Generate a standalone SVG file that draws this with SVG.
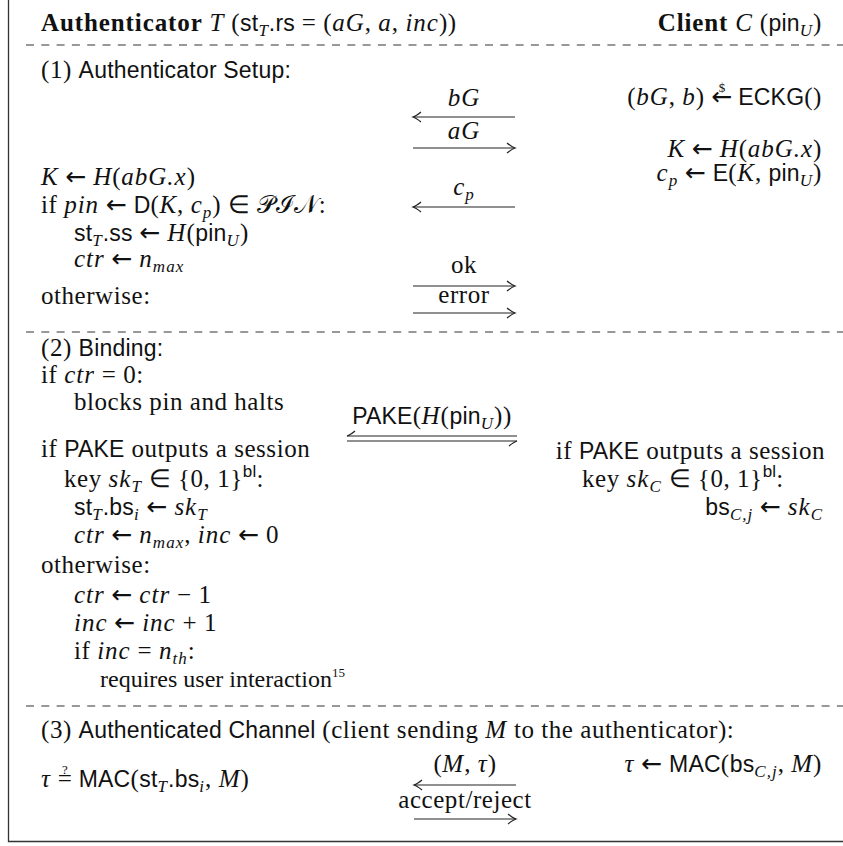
<svg xmlns="http://www.w3.org/2000/svg" width="843" height="846" viewBox="0 0 843 846">
<style>
text{font-family:"Liberation Serif","Times New Roman",serif;font-size:25px;letter-spacing:0.55px;fill:#111}
.i{font-style:italic;letter-spacing:1px}
.s{font-family:"Liberation Sans",Arial,sans-serif;font-size:23px;font-style:normal;letter-spacing:0.2px}
.ar{font-family:"DejaVu Sans",sans-serif;font-size:25px;font-style:normal;letter-spacing:0}
.cal{font-style:normal;letter-spacing:0.5px}
.b{font-weight:bold;letter-spacing:0.9px}
.sb{font-size:17px}
.sm{font-size:13px;letter-spacing:0}
.rq{font-size:24px;letter-spacing:0}
.c{text-anchor:middle}
.e{text-anchor:end}
.frame{fill:none;stroke:#333;stroke-width:1.3}
.dash{stroke:#333;stroke-width:1.1;stroke-dasharray:8 7.3}
.arr{fill:none;stroke:#222;stroke-width:1.2}
</style>
<defs>
<marker id="ah" viewBox="-10 -7 12 14" refX="0" refY="0" markerWidth="12" markerHeight="14" orient="auto" markerUnits="userSpaceOnUse">
<path d="M-8,-5 Q-3,-0.9 0,0 Q-3,0.9 -8,5" fill="none" stroke="#222" stroke-width="1.2"/>
</marker>
<marker id="hp" viewBox="-10 -7 12 14" refX="0" refY="0" markerWidth="12" markerHeight="14" orient="auto" markerUnits="userSpaceOnUse">
<path d="M0,0 Q-3,0.9 -8,5" fill="none" stroke="#222" stroke-width="1.2"/>
</marker>
</defs>

<g id="frame">
<path class="frame" d="M8.5,0 V841.5 H843"/>
<line class="dash" x1="26" y1="45" x2="843" y2="45"/>
<line class="dash" x1="26" y1="332" x2="843" y2="332"/>
<line class="dash" x1="26" y1="706" x2="843" y2="706"/>
</g>

<g id="header">
<text x="41" y="31"><tspan class="b">Authenticator</tspan> <tspan class="i">T</tspan> (<tspan class="s">st</tspan><tspan class="i sb" dy="5">T</tspan><tspan class="s" dy="-5">.rs</tspan> = (<tspan class="i">aG</tspan>, <tspan class="i">a</tspan>, <tspan class="i">inc</tspan>))</text>
<text class="e" x="822" y="31"><tspan class="b">Client</tspan> <tspan class="i">C</tspan> (<tspan class="s">pin</tspan><tspan class="i sb" dy="5">U</tspan><tspan dy="-5">)</tspan></text>
</g>

<g id="setup-authenticator">
<text x="41" y="78">(1) <tspan class="s">Authenticator Setup:</tspan></text>
<text x="41" y="185"><tspan class="i">K</tspan> <tspan class="ar">←</tspan> <tspan class="i">H</tspan>(<tspan class="i">abG.x</tspan>)</text>
<text x="41" y="213">if <tspan class="i">pin</tspan> <tspan class="ar">←</tspan> <tspan class="s">D</tspan>(<tspan class="i">K</tspan>, <tspan class="i">c</tspan><tspan class="i sb" dy="5">p</tspan><tspan dy="-5">) ∈ </tspan><tspan class="cal">𝒫ℐ𝒩</tspan>:</text>
<text x="74" y="241"><tspan class="s">st</tspan><tspan class="i sb" dy="5">T</tspan><tspan class="s" dy="-5">.ss</tspan> <tspan class="ar">←</tspan> <tspan class="i">H</tspan>(<tspan class="s">pin</tspan><tspan class="i sb" dy="5">U</tspan><tspan dy="-5">)</tspan></text>
<text x="74" y="267"><tspan class="i">ctr</tspan> <tspan class="ar">←</tspan> <tspan class="i">n</tspan><tspan class="i sb" dy="5">max</tspan></text>
<text x="41" y="304">otherwise:</text>
</g>

<g id="setup-client">
<text class="e" x="822" y="105">(<tspan class="i">bG</tspan>, <tspan class="i">b</tspan>) <tspan class="ar">←</tspan><tspan class="sm" dx="-13.7" dy="-13">$</tspan><tspan class="s" dx="13" dy="13">ECKG</tspan>()</text>
<text class="e" x="822" y="157"><tspan class="i">K</tspan> <tspan class="ar">←</tspan> <tspan class="i">H</tspan>(<tspan class="i">abG.x</tspan>)</text>
<text class="e" x="822" y="181"><tspan class="i">c</tspan><tspan class="i sb" dy="5">p</tspan> <tspan class="ar" dy="-5">←</tspan> <tspan class="s">E</tspan>(<tspan class="i">K</tspan>, <tspan class="s">pin</tspan><tspan class="i sb" dy="5">U</tspan><tspan dy="-5">)</tspan></text>
</g>

<g id="binding-authenticator">
<text x="41" y="356">(2) <tspan class="s">Binding:</tspan></text>
<text x="41" y="383">if <tspan class="i">ctr</tspan> = 0:</text>
<text x="74" y="410">blocks pin and halts</text>
<text x="41" y="457">if <tspan class="s">PAKE</tspan> outputs a session</text>
<text x="64" y="487">key <tspan class="i">sk</tspan><tspan class="i sb" dy="5">T</tspan><tspan dy="-5"> ∈ {0, 1}</tspan><tspan class="s sb" dy="-10">bl</tspan><tspan dy="10">:</tspan></text>
<text x="74" y="515"><tspan class="s">st</tspan><tspan class="i sb" dy="5">T</tspan><tspan class="s" dy="-5">.bs</tspan><tspan class="i sb" dy="5">i</tspan> <tspan class="ar" dy="-5">←</tspan> <tspan class="i">sk</tspan><tspan class="i sb" dy="5">T</tspan></text>
<text x="74" y="543"><tspan class="i">ctr</tspan> <tspan class="ar">←</tspan> <tspan class="i">n</tspan><tspan class="i sb" dy="5">max</tspan><tspan dy="-5">, </tspan><tspan class="i">inc</tspan> <tspan class="ar">←</tspan> 0</text>
<text x="41" y="573">otherwise:</text>
<text x="74" y="603"><tspan class="i">ctr</tspan> <tspan class="ar">←</tspan> <tspan class="i">ctr</tspan> − 1</text>
<text x="74" y="631"><tspan class="i">inc</tspan> <tspan class="ar">←</tspan> <tspan class="i">inc</tspan> + 1</text>
<text x="74" y="659">if <tspan class="i">inc</tspan> = <tspan class="i">n</tspan><tspan class="i sb" dy="5">th</tspan><tspan dy="-5">:</tspan></text>
<text class="rq" x="100" y="687">requires user interaction<tspan class="sm" dy="-10">15</tspan></text>
</g>

<g id="binding-client">
<text class="e" x="825" y="459">if <tspan class="s">PAKE</tspan> outputs a session</text>
<text x="582" y="487">key <tspan class="i">sk</tspan><tspan class="i sb" dy="5">C</tspan><tspan dy="-5"> ∈ {0, 1}</tspan><tspan class="s sb" dy="-10">bl</tspan><tspan dy="10">:</tspan></text>
<text class="e" x="823" y="515"><tspan class="s">bs</tspan><tspan class="i sb" dy="5">C,j</tspan> <tspan class="ar" dy="-5">←</tspan> <tspan class="i">sk</tspan><tspan class="i sb" dy="5">C</tspan></text>
</g>

<g id="channel">
<text x="41" y="738">(3) <tspan class="s">Authenticated Channel</tspan> (client sending <tspan class="i">M</tspan> to the authenticator):</text>
<text class="e" x="822" y="772"><tspan class="i">τ</tspan> <tspan class="ar">←</tspan> <tspan class="s">MAC</tspan>(<tspan class="s">bs</tspan><tspan class="i sb" dy="5">C,j</tspan><tspan dy="-5">, </tspan><tspan class="i">M</tspan>)</text>
<text x="41" y="787"><tspan class="i">τ</tspan> =<tspan class="sm" dx="-10.5" dy="-13">?</tspan><tspan class="s" dx="11" dy="13">MAC</tspan>(<tspan class="s">st</tspan><tspan class="i sb" dy="5">T</tspan><tspan class="s" dy="-5">.bs</tspan><tspan class="i sb" dy="5">i</tspan><tspan dy="-5">, </tspan><tspan class="i">M</tspan>)</text>
</g>

<g id="connectors">
<text class="c i" x="464" y="106">bG</text>
<line class="arr" x1="515" y1="117" x2="413" y2="117" marker-end="url(#ah)"/>
<text class="c i" x="464" y="139">aG</text>
<line class="arr" x1="413" y1="148" x2="515" y2="148" marker-end="url(#ah)"/>
<text class="c i" x="464" y="195">c<tspan class="sb" dy="5">p</tspan></text>
<line class="arr" x1="515" y1="207" x2="413" y2="207" marker-end="url(#ah)"/>
<text class="c" x="464" y="273">ok</text>
<line class="arr" x1="413" y1="286" x2="515" y2="286" marker-end="url(#ah)"/>
<text class="c" x="464" y="303">error</text>
<line class="arr" x1="413" y1="313" x2="515" y2="313" marker-end="url(#ah)"/>
<text class="c" x="432" y="424"><tspan class="s">PAKE</tspan>(<tspan class="i">H</tspan>(<tspan class="s">pin</tspan><tspan class="i sb" dy="5">U</tspan><tspan dy="-5">))</tspan></text>
<line class="arr" x1="517" y1="436" x2="347" y2="436" marker-end="url(#hp)"/>
<line class="arr" x1="347" y1="441" x2="517" y2="441" marker-end="url(#hp)"/>
<text class="c" x="465" y="772">(<tspan class="i">M</tspan>, <tspan class="i">τ</tspan>)</text>
<line class="arr" x1="516" y1="785" x2="414" y2="785" marker-end="url(#ah)"/>
<text class="c" x="465" y="808">accept/reject</text>
<line class="arr" x1="414" y1="819" x2="516" y2="819" marker-end="url(#ah)"/>
</g>
</svg>
